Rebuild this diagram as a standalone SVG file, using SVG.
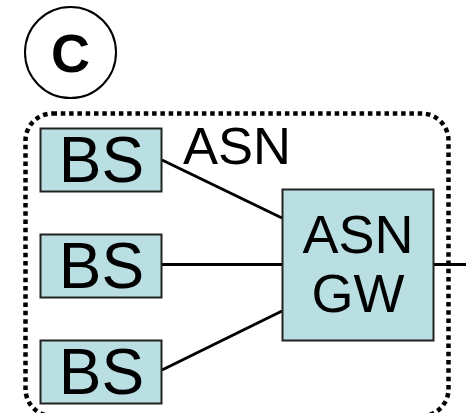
<svg xmlns="http://www.w3.org/2000/svg" width="466" height="413" viewBox="0 0 466 413">
<style>
text{font-family:"Liberation Sans",Arial,sans-serif;fill:#000;text-anchor:middle}
.box{fill:#b9dfe3;stroke:#222;stroke-width:2}
.lbl{font-size:64px}
.gw{font-size:54px}
.conn{stroke:#000;stroke-width:3;fill:none}
</style>
<g id="node-c"><circle cx="70.500" cy="52.500" r="45.500" fill="#fff" stroke="#000" stroke-width="2"/><text x="70.500" y="72" font-size="54" font-weight="bold">C</text></g>
<g id="node-asn"><rect x="25.500" y="113.500" width="423" height="302.500" rx="27" fill="none" stroke="#000" stroke-width="4.500" stroke-dasharray="4.500 3.800"/><text x="237" y="164" font-size="52.500">ASN</text></g>
<g id="connectors">
<line class="conn" x1="162" y1="160" x2="282" y2="218"/>
<line class="conn" x1="162" y1="264.500" x2="282" y2="264.500"/>
<line class="conn" x1="162" y1="370" x2="282" y2="311"/>
<line class="conn" x1="434" y1="264.500" x2="466" y2="264.500"/>
</g>
<g id="node-bs1"><rect class="box" x="40.500" y="128.500" width="121" height="63"/><text class="lbl" x="101.500" y="182">BS</text></g>
<g id="node-bs2"><rect class="box" x="40.500" y="234.500" width="121" height="63"/><text class="lbl" x="101.500" y="288">BS</text></g>
<g id="node-bs3"><rect class="box" x="40.500" y="340.500" width="121" height="63"/><text class="lbl" x="101.500" y="394">BS</text></g>
<g id="node-gw"><rect class="box" x="282.500" y="189.500" width="151" height="151"/><text class="gw" x="358" y="253">ASN</text><text class="gw" x="358" y="312">GW</text></g>
</svg>
